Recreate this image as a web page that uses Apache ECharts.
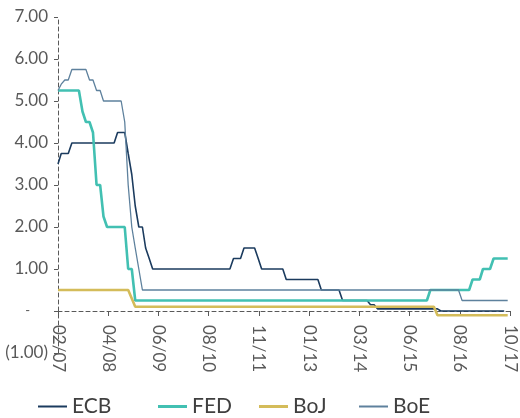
<!DOCTYPE html>
<html>
<head>
<meta charset="utf-8">
<script src="https://cdn.jsdelivr.net/npm/echarts@6/dist/echarts.min.js"></script>
<style>
  html, body { margin: 0; padding: 0; background: #fff; }
  #chart { width: 520px; height: 418px; }
</style>
</head>
<body>
<div id="chart"></div>
<script>
// policy rates (%), [month, rate] at each change point
const ecbRates = [
  ['2007-02', 3.5], ['2007-03', 3.75], ['2007-05', 3.75], ['2007-06', 4.0],
  ['2008-06', 4.0], ['2008-07', 4.25], ['2008-09', 4.25], ['2008-10', 3.75],
  ['2008-11', 3.25], ['2008-12', 2.5], ['2009-01', 2.0], ['2009-02', 2.0],
  ['2009-03', 1.5], ['2009-04', 1.25], ['2009-05', 1.0], ['2011-03', 1.0],
  ['2011-04', 1.25], ['2011-06', 1.25], ['2011-07', 1.5], ['2011-10', 1.5],
  ['2011-11', 1.25], ['2011-12', 1.0], ['2012-06', 1.0], ['2012-07', 0.75],
  ['2013-04', 0.75], ['2013-05', 0.5], ['2013-10', 0.5], ['2013-11', 0.25],
  ['2014-06', 0.25], ['2014-07', 0.15], ['2014-08', 0.15], ['2014-09', 0.05],
  ['2016-02', 0.05], ['2016-03', 0.0], ['2017-09', 0.0]
];
const fedRates = [
  ['2007-02', 5.25], ['2007-08', 5.25], ['2007-09', 4.75], ['2007-10', 4.5],
  ['2007-11', 4.5], ['2007-12', 4.25], ['2008-01', 3.0], ['2008-02', 3.0],
  ['2008-03', 2.25], ['2008-04', 2.0], ['2008-09', 2.0], ['2008-10', 1.0],
  ['2008-11', 1.0], ['2008-12', 0.25], ['2015-11', 0.25], ['2015-12', 0.5],
  ['2016-11', 0.5], ['2016-12', 0.75], ['2017-02', 0.75], ['2017-03', 1.0],
  ['2017-05', 1.0], ['2017-06', 1.25], ['2017-10', 1.25]
];
const bojRates = [
  ['2007-02', 0.5], ['2008-10', 0.5], ['2008-11', 0.3], ['2008-12', 0.1],
  ['2016-01', 0.1], ['2016-02', -0.1], ['2017-10', -0.1]
];
const boeRates = [
  ['2007-02', 5.25], ['2007-03', 5.4], ['2007-04', 5.5], ['2007-05', 5.5],
  ['2007-06', 5.75], ['2007-10', 5.75], ['2007-11', 5.5], ['2007-12', 5.5],
  ['2008-01', 5.25], ['2008-02', 5.25], ['2008-03', 5.0], ['2008-08', 5.0],
  ['2008-09', 4.5], ['2008-10', 3.0], ['2008-11', 2.0], ['2008-12', 1.5],
  ['2009-01', 1.0], ['2009-02', 0.5], ['2016-08', 0.5], ['2016-09', 0.25],
  ['2017-10', 0.25]
];

const seriesNames = ['ECB', 'FED', 'BoJ', 'BoE'];
const xTickLabels = ['02/07', '04/08', '06/09', '08/10', '11/11', '01/13', '03/14', '06/15', '08/16', '10/17'];

const DAY = 86400000;
const xStart = Date.UTC(2007, 1, 1);
const xStep = 435 * DAY; // evenly spaced date ticks

const toTime = (ym) => {
  const [y, m] = ym.split('-').map(Number);
  return Date.UTC(y, m - 1, 1);
};

const allRates = [ecbRates, fedRates, bojRates, boeRates];
const colors = ['#1b3b5e', '#42c0b2', '#d4bc5a', '#5e819d'];
const widths = [1.6, 2.6, 2.6, 1.3];
const legendLeft = [38, 158, 259, 359];

const FONT = 'Lato';
const GREY = '#595959';

const chart = echarts.init(document.getElementById('chart'));

const option = {
  animation: false,
  backgroundColor: '#fff',
  grid: {left: 58, right: 10, top: 17, bottom: 65},
  legend: seriesNames.map((name, i) => ({
    data: [name],
    left: legendLeft[i],
    top: 396,
    padding: 0,
    icon: 'rect',
    itemWidth: 29,
    itemHeight: i === 1 || i === 2 ? 3 : 2,
    textStyle: {color: '#404040', fontSize: 21, fontFamily: FONT}
  })),
  xAxis: {
    type: 'value',
    min: xStart,
    max: xStart + 9 * xStep,
    interval: xStep,
    axisLine: {onZero: true, lineStyle: {color: GREY, width: 1, type: [4, 3]}},
    axisTick: {show: true, length: 5, lineStyle: {color: GREY}},
    axisLabel: {
      rotate: -90,
      margin: -28,
      color: GREY,
      fontSize: 17,
      fontFamily: FONT,
      formatter: (v) => xTickLabels[Math.round((v - xStart) / xStep)] || ''
    },
    splitLine: {show: false}
  },
  yAxis: {
    type: 'value',
    min: -1,
    max: 7,
    interval: 1,
    axisLine: {show: true, lineStyle: {color: GREY, width: 1, type: [4, 3]}},
    axisTick: {show: true, length: 4, lineStyle: {color: GREY}},
    axisLabel: {
      margin: 10,
      color: GREY,
      fontSize: 17,
      fontFamily: FONT,
      formatter: (v) => {
        if (v === 0) return '{dash|-}';
        if (v < 0) return '(' + Math.abs(v).toFixed(2) + ')';
        return v.toFixed(2);
      },
      rich: {
        dash: {color: GREY, fontSize: 13, fontFamily: FONT, padding: [0, 18, 0, 0]}
      }
    },
    splitLine: {show: false}
  },
  series: seriesNames.map((name, i) => ({
    name: name,
    type: 'line',
    symbol: 'none',
    color: colors[i],
    lineStyle: {color: colors[i], width: widths[i]},
    data: allRates[i].map(([d, v]) => [toTime(d), v])
  }))
};

chart.setOption(option);
</script>
</body>
</html>
